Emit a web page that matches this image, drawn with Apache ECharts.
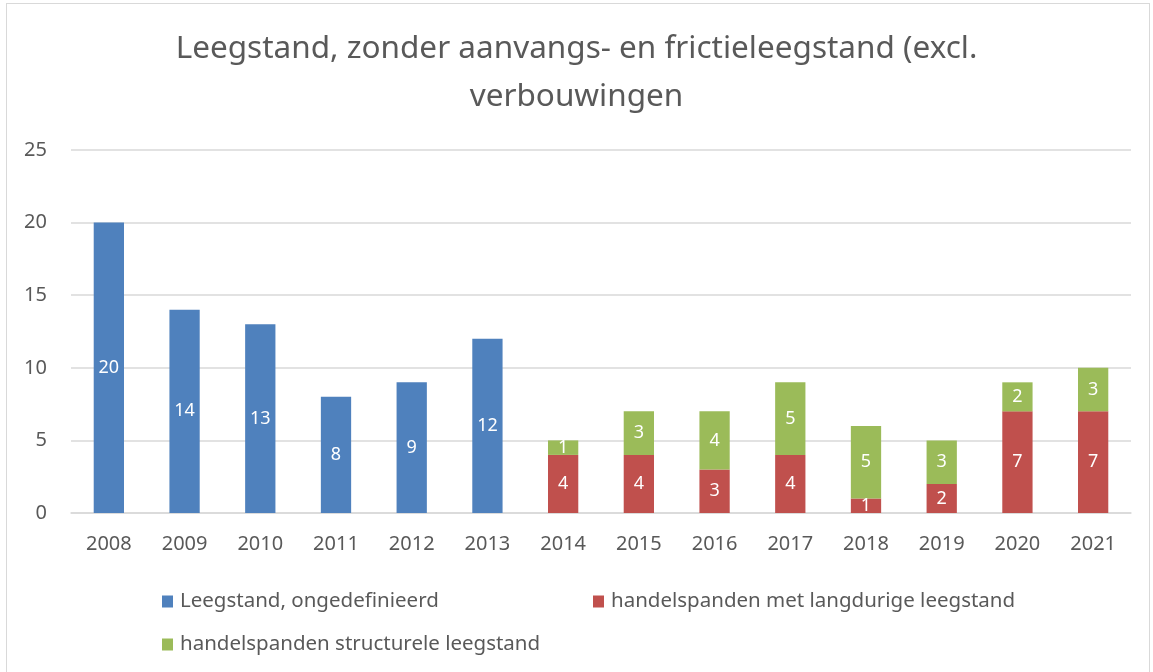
<!DOCTYPE html>
<html>
<head>
<meta charset="utf-8">
<script src="https://cdn.jsdelivr.net/npm/echarts@6/dist/echarts.min.js"></script>
<style>
  html, body { margin: 0; padding: 0; background: #fff; }
  #frame { position: absolute; left: 6px; top: 3px; width: 1144px; height: 672px; border: 1px solid #d9d9d9; box-sizing: border-box; }
  #chart { position: absolute; left: 0; top: 0; width: 1153px; height: 672px; }
</style>
</head>
<body>
<div id="frame"></div>
<div id="chart"></div>
<script>
// 年份
const years = ['2008', '2009', '2010', '2011', '2012', '2013', '2014', '2015', '2016', '2017', '2018', '2019', '2020', '2021'];
// Leegstand, ongedefinieerd
const ongedefinieerd = [20, 14, 13, 8, 9, 12, '-', '-', '-', '-', '-', '-', '-', '-'];
// handelspanden met langdurige leegstand
const langdurig = ['-', '-', '-', '-', '-', '-', 4, 4, 3, 4, 1, 2, 7, 7];
// handelspanden structurele leegstand
const structureel = ['-', '-', '-', '-', '-', '-', 1, 3, 4, 5, 5, 3, 2, 3];
const yTicks = [0, 5, 10, 15, 20, 25];

const names = ['Leegstand, ongedefinieerd', 'handelspanden met langdurige leegstand', 'handelspanden structurele leegstand'];
const colors = ['#4F81BD', '#C0504D', '#9BBB59'];
const font = '"Noto Sans", "Open Sans", sans-serif';

const chart = echarts.init(document.getElementById('chart'));

const label = {
  show: true,
  position: 'inside',
  color: '#fff',
  fontSize: 18,
  fontFamily: font,
  formatter: p => (p.value === '-' ? '' : p.value)
};

const legendBase = {
  icon: 'rect',
  itemWidth: 11,
  itemHeight: 12,
  itemGap: 4,
  textStyle: { color: '#595959', fontSize: 20.5, fontFamily: font, padding: [0, 0, 0, 2] }
};

chart.setOption({
  color: colors,
  title: {
    text: 'Leegstand, zonder aanvangs- en frictieleegstand (excl.\nverbouwingen',
    left: 'center',
    top: 20,
    textStyle: { color: '#595959', fontSize: 31.5, fontWeight: 'normal', fontFamily: font, lineHeight: 48 }
  },
  legend: [
    Object.assign({ data: [names[0]], left: 157, top: 586 }, legendBase),
    Object.assign({ data: [names[1]], left: 588, top: 586 }, legendBase),
    Object.assign({ data: [names[2]], left: 157, top: 629 }, legendBase)
  ],
  grid: { left: 71, right: 22, top: 150, bottom: 159 },
  xAxis: {
    type: 'category',
    data: years,
    axisTick: { show: false },
    axisLine: { lineStyle: { color: '#d9d9d9', width: 1.5 } },
    axisLabel: { color: '#595959', fontSize: 20, fontFamily: font, margin: 21 }
  },
  yAxis: {
    type: 'value',
    min: yTicks[0],
    max: yTicks[yTicks.length - 1],
    interval: 5,
    axisLine: { show: false },
    axisTick: { show: false },
    axisLabel: { color: '#595959', fontSize: 20, fontFamily: font, margin: 24 },
    splitLine: { lineStyle: { color: '#d9d9d9', width: 1.5 } }
  },
  series: [
    { name: names[0], type: 'bar', stack: 'tot', data: ongedefinieerd, barWidth: '40%', label: label },
    { name: names[1], type: 'bar', stack: 'tot', data: langdurig, barWidth: '40%', label: label },
    { name: names[2], type: 'bar', stack: 'tot', data: structureel, barWidth: '40%', label: label }
  ]
});
</script>
</body>
</html>
